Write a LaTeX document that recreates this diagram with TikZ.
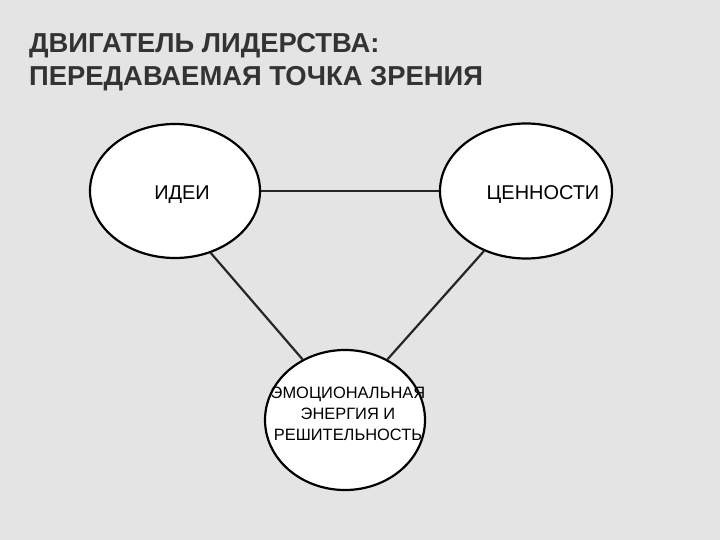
\documentclass[tikz,border=0pt]{standalone}
\usepackage{fontspec}
\setmainfont{Liberation Sans}
\usetikzlibrary{shapes.geometric}
\definecolor{bg}{HTML}{E4E4E4}
\definecolor{ttl}{HTML}{333333}
\begin{document}
\begin{tikzpicture}[x=1bp,y=-1bp,
  oval/.style={ellipse,draw=black,line width=2.2pt,fill=white,inner sep=0pt},
  conn/.style={line width=2.2pt,draw=black!85}]
\fill[bg] (0,0) rectangle (720,540);
\useasboundingbox (0,0) rectangle (720,540);
\node[anchor=west,text=ttl,font=\fontsize{27.5}{33}\selectfont\bfseries,align=left,inner sep=0pt] (title) at (29,62) {ДВИГАТЕЛЬ ЛИДЕРСТВА:\\ПЕРЕДАВАЕМАЯ ТОЧКА ЗРЕНИЯ};
\node[oval,minimum width=170bp,minimum height=134bp] (a) at (175,191) {};
\node[oval,minimum width=172bp,minimum height=135bp] (b) at (526,191) {};
\node[oval,minimum width=160bp,minimum height=140bp] (c) at (345,420) {};
\draw[conn] (a.east) -- (b.west);
\draw[conn] (a.-60) -- (c.125);
\draw[conn] (b.-125) -- (c.55);
\node[font=\fontsize{20}{24}\selectfont] (ta) at (182,195) {ИДЕИ};
\node[font=\fontsize{20}{24}\selectfont] (tb) at (543,195) {ЦЕННОСТИ};
\node[font=\fontsize{16.5}{21}\selectfont,align=center] (tc) at (348,414) {ЭМОЦИОНАЛЬНАЯ\\ЭНЕРГИЯ И\\РЕШИТЕЛЬНОСТЬ};
\end{tikzpicture}
\end{document}
